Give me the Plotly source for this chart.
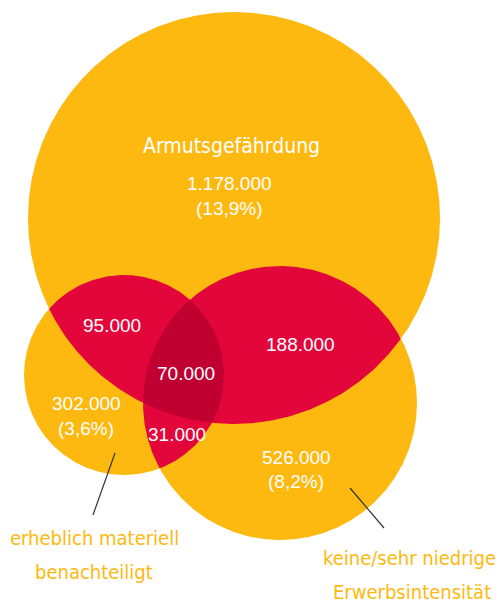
import math
import plotly.graph_objects as go

# ---- data ----
set_names = ["Armutsgefährdung", "erheblich materiell<br>benachteiligt", "keine/sehr niedrige<br>Erwerbsintensität"]
set_totals = ["1.178.000", "302.000", "526.000"]
set_shares = ["(13,9%)", "(3,6%)", "(8,2%)"]
overlap_labels = ["95.000", "188.000", "31.000", "70.000"]  # A∩B, A∩C, B∩C, A∩B∩C

# ---- geometry (pixel space, y down) ----
W, H = 502, 607
circles = [(234, 218, 206), (124, 375, 100), (280, 403, 137)]  # (cx, cy, r)
YELLOW = "#FDB90F"
RED = "#E2063B"
DARK = "#C10032"
N = 720


def circle_poly(c):
    cx, cy, r = c
    return [(cx + r * math.cos(2 * math.pi * k / N), cy + r * math.sin(2 * math.pi * k / N)) for k in range(N)]


def clip(subject, clipper):
    def inside(p, a, b):
        return (b[0] - a[0]) * (p[1] - a[1]) - (b[1] - a[1]) * (p[0] - a[0]) >= 0

    def inter(p, q, a, b):
        x1, y1 = p; x2, y2 = q; x3, y3 = a; x4, y4 = b
        den = (x1 - x2) * (y3 - y4) - (y1 - y2) * (x3 - x4)
        t = ((x1 - x3) * (y3 - y4) - (y1 - y3) * (x3 - x4)) / den
        return (x1 + t * (x2 - x1), y1 + t * (y2 - y1))

    out = subject
    for i in range(len(clipper)):
        a, b = clipper[i], clipper[(i + 1) % len(clipper)]
        inp = out
        out = []
        if not inp:
            break
        s = inp[-1]
        for e in inp:
            if inside(e, a, b):
                if not inside(s, a, b):
                    out.append(inter(s, e, a, b))
                out.append(e)
            elif inside(s, a, b):
                out.append(inter(s, e, a, b))
            s = e
    return out


polys = [circle_poly(c) for c in circles]
fig = go.Figure()


def add_poly(pts, color):
    xs = [p[0] for p in pts] + [pts[0][0]]
    ys = [p[1] for p in pts] + [pts[0][1]]
    fig.add_trace(go.Scatter(x=xs, y=ys, mode="lines", fill="toself", fillcolor=color,
                             line=dict(width=0, color=color), hoverinfo="skip", showlegend=False))


for p in polys:
    add_poly(p, YELLOW)
for i, j in [(0, 1), (0, 2), (1, 2)]:
    add_poly(clip(polys[i], polys[j]), RED)
add_poly(clip(clip(polys[0], polys[1]), polys[2]), DARK)

# ---- texts ----
num_font = dict(family="Liberation Sans, Arial, sans-serif", size=19, color="white")
cond = "DejaVu Sans Condensed, DejaVu Sans, sans-serif"

ann = []
ann.append(dict(x=231, y=146, text=set_names[0], font=dict(family=cond, size=21, color="white")))
ann.append(dict(x=229, y=183, text=set_totals[0], font=num_font))
ann.append(dict(x=229, y=208, text=set_shares[0], font=num_font))
ann.append(dict(x=86, y=403, text=set_totals[1], font=num_font))
ann.append(dict(x=86, y=428, text=set_shares[1], font=num_font))
ann.append(dict(x=296, y=457, text=set_totals[2], font=num_font))
ann.append(dict(x=296, y=481, text=set_shares[2], font=num_font))
ann.append(dict(x=112, y=325, text=overlap_labels[0], font=num_font))
ann.append(dict(x=300, y=344, text=overlap_labels[1], font=num_font))
ann.append(dict(x=177, y=434, text=overlap_labels[2], font=num_font))
ann.append(dict(x=186, y=373, text=overlap_labels[3], font=num_font))
label_font = dict(family=cond, size=20, color=YELLOW)
b_lines = set_names[1].split("<br>")
c_lines = set_names[2].split("<br>")
ann.append(dict(x=94, y=538, text=b_lines[0], font=label_font))
ann.append(dict(x=94, y=572, text=b_lines[1], font=label_font))
ann.append(dict(x=409, y=558, text=c_lines[0], font=label_font))
ann.append(dict(x=412, y=592, text=c_lines[1], font=label_font))
for a in ann:
    a.update(xref="x", yref="y", showarrow=False, xanchor="center", yanchor="middle")

shapes = [
    dict(type="line", x0=115, y0=453, x1=93, y1=515, xref="x", yref="y", line=dict(color="#333333", width=1.2)),
    dict(type="line", x0=350, y0=488, x1=384, y1=528, xref="x", yref="y", line=dict(color="#333333", width=1.2)),
]

fig.update_layout(
    width=W, height=H, margin=dict(l=0, r=0, t=0, b=0),
    paper_bgcolor="white", plot_bgcolor="white",
    xaxis=dict(range=[0, W], visible=False, fixedrange=True),
    yaxis=dict(range=[H, 0], visible=False, fixedrange=True),
    annotations=ann, shapes=shapes, showlegend=False,
)
fig.write_html("out.html", config={"displayModeBar": False})

with open("out.html", encoding="utf-8") as f:
    html = f.read()
html = html.replace("<body>", '<body style="margin:0;padding:0;overflow:hidden">', 1)
with open("out.html", "w", encoding="utf-8") as f:
    f.write(html)
